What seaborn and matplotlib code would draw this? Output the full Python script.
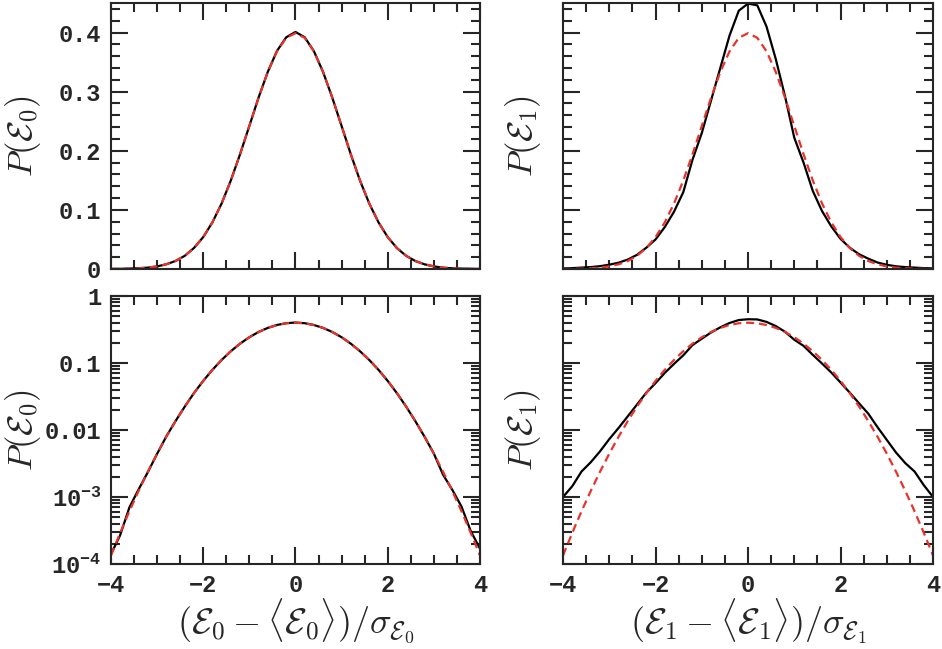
import numpy as np
import pandas as pd
import matplotlib
matplotlib.use('Agg')
import matplotlib.pyplot as plt
import matplotlib.ticker as mticker
import seaborn as sns

# sample points (normalised deviation)
x = [-4.0, -3.8, -3.6, -3.4, -3.2, -3.0, -2.8, -2.6, -2.4, -2.2, -2.0,
     -1.8, -1.6, -1.4, -1.2, -1.0, -0.8, -0.6, -0.4, -0.2, 0.0,
     0.2, 0.4, 0.6, 0.8, 1.0, 1.2, 1.4, 1.6, 1.8, 2.0,
     2.2, 2.4, 2.6, 2.8, 3.0, 3.2, 3.4, 3.6, 3.8, 4.0]

# gaussian reference curve (red dashed)
gauss = [0.000134, 0.000292, 0.000612, 0.001232, 0.002384, 0.004432, 0.007915,
         0.013583, 0.022395, 0.035475, 0.053991, 0.078950, 0.110921, 0.149727,
         0.194186, 0.241971, 0.289692, 0.333225, 0.368270, 0.391043, 0.398942,
         0.391043, 0.368270, 0.333225, 0.289692, 0.241971, 0.194186, 0.149727,
         0.110921, 0.078950, 0.053991, 0.035475, 0.022395, 0.013583, 0.007915,
         0.004432, 0.002384, 0.001232, 0.000612, 0.000292, 0.000134]

# measured distribution of E0 (black)
p_e0 = [0.000140, 0.000270, 0.000700, 0.001300, 0.002350, 0.004400, 0.008000,
        0.013600, 0.022300, 0.035600, 0.054000, 0.079000, 0.111000, 0.150000,
        0.194500, 0.242000, 0.290000, 0.333500, 0.369000, 0.392000, 0.401000,
        0.392000, 0.368500, 0.333000, 0.289500, 0.242000, 0.194000, 0.149500,
        0.110800, 0.079000, 0.054000, 0.035400, 0.022300, 0.013500, 0.007900,
        0.004450, 0.002150, 0.001280, 0.000720, 0.000310, 0.000170]

# measured distribution of E1 (black)
p_e1 = [0.00100, 0.00145, 0.00240, 0.00330, 0.00480, 0.00730, 0.01070,
        0.01600, 0.02400, 0.03600, 0.05000, 0.07100, 0.09700, 0.13000,
        0.18500, 0.23000, 0.28500, 0.34000, 0.39500, 0.43700, 0.44900,
        0.44600, 0.41000, 0.35500, 0.29200, 0.22200, 0.18000, 0.13200,
        0.09800, 0.07200, 0.05100, 0.03600, 0.02500, 0.01750, 0.01100,
        0.00710, 0.00460, 0.00320, 0.00240, 0.00150, 0.00100]

df = pd.DataFrame({'x': x, 'gauss': gauss, 'e0': p_e0, 'e1': p_e1})

sns.set_style('ticks')
plt.rcParams['font.family'] = ['Liberation Mono', 'DejaVu Sans Mono']
plt.rcParams['font.weight'] = 'bold'
plt.rcParams['mathtext.fontset'] = 'cm'
plt.rcParams['axes.linewidth'] = 1.5

fig = plt.figure(figsize=(9.42, 6.49), dpi=100)
ax_tl = fig.add_axes([0.1178, 0.5855, 0.3917, 0.4099])
ax_tr = fig.add_axes([0.5977, 0.5855, 0.3928, 0.4099])
ax_bl = fig.add_axes([0.1178, 0.131, 0.3917, 0.413])
ax_br = fig.add_axes([0.5977, 0.131, 0.3928, 0.413])

red = '#e8332b'
panels = [(ax_tl, 'e0', False), (ax_tr, 'e1', False),
          (ax_bl, 'e0', True), (ax_br, 'e1', True)]
for ax, col, logy in panels:
    sns.lineplot(data=df, x='x', y=col, ax=ax, color='black', lw=1.6)
    sns.lineplot(data=df, x='x', y='gauss', ax=ax, color=red, lw=1.6,
                 dashes=False, linestyle=(0, (3.6, 2.2)))
    ax.set_xlim(-4, 4)
    ax.xaxis.set_major_locator(mticker.MultipleLocator(2))
    ax.xaxis.set_minor_locator(mticker.MultipleLocator(0.5))
    if logy:
        ax.set_yscale('log')
        ax.set_ylim(1e-4, 1)
        ax.set_yticks([1e-4, 1e-3, 1e-2, 0.1, 1])
        ax.yaxis.set_minor_locator(mticker.LogLocator(base=10, subs=np.arange(2, 10)))
        ax.yaxis.set_minor_formatter(mticker.NullFormatter())
        ax.set_yticklabels([r'$\mathregular{10^{-4}}$', r'$\mathregular{10^{-3}}$',
                            '0.01', '0.1', '1'])
        ax.set_xticks([-4, -2, 0, 2, 4])
        ax.set_xticklabels(['\u22124', '\u22122', '0', '2', '4'])
    else:
        ax.set_ylim(0, 0.45)
        ax.set_yticks([0, 0.1, 0.2, 0.3, 0.4])
        ax.set_yticklabels(['0', '0.1', '0.2', '0.3', '0.4'])
        ax.yaxis.set_minor_locator(mticker.MultipleLocator(0.02))
        ax.tick_params(axis='x', labelbottom=False)
    ax.tick_params(which='both', direction='in', top=True, right=True,
                   width=1.5, labelsize=17, pad=7)
    ax.tick_params(which='major', length=12)
    ax.tick_params(which='minor', length=6.5)
    ax.set_xlabel('')
    for sp in ax.spines.values():
        sp.set_linewidth(1.5)

for ax in (ax_tr, ax_br):
    ax.tick_params(axis='y', labelleft=False)

ax_tl.set_ylabel(r'$P(\mathcal{E}_0)$', fontsize=25)
ax_bl.set_ylabel(r'$P(\mathcal{E}_0)$', fontsize=25)
ax_tr.set_ylabel(r'$P(\mathcal{E}_1)$', fontsize=25)
ax_br.set_ylabel(r'$P(\mathcal{E}_1)$', fontsize=25)
for ax in (ax_tl, ax_bl):
    ax.yaxis.set_label_coords(-0.185, 0.5)
for ax in (ax_tr, ax_br):
    ax.yaxis.set_label_coords(-0.055, 0.5)

ax_bl.set_xlabel(r'$(\mathcal{E}_0-\langle\mathcal{E}_0\rangle)/\sigma_{\mathcal{E}_0}$',
                 fontsize=26, labelpad=0)
ax_br.set_xlabel(r'$(\mathcal{E}_1-\langle\mathcal{E}_1\rangle)/\sigma_{\mathcal{E}_1}$',
                 fontsize=26, labelpad=0)

fig.savefig('out.png', dpi=100)
